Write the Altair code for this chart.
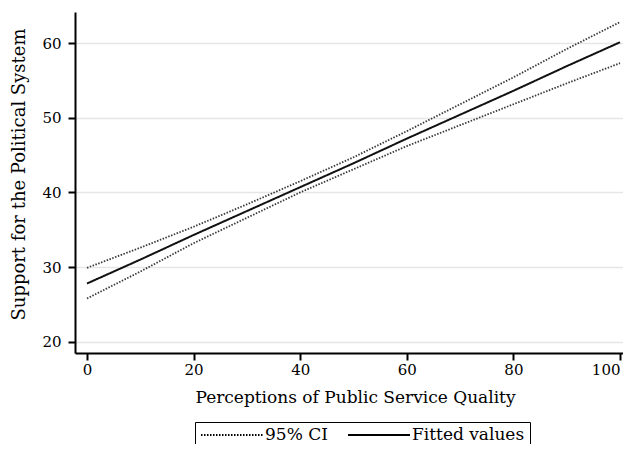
import altair as alt
import pandas as pd

# values
xs = [0, 10, 20, 30, 40, 50, 60, 70, 80, 90, 100]
fitted = [27.8, 31.0, 34.3, 37.5, 40.7, 43.9, 47.2, 50.4, 53.6, 56.9, 60.1]
upper = [29.9, 32.6, 35.4, 38.4, 41.5, 44.7, 48.2, 51.8, 55.4, 59.2, 62.8]
lower = [25.8, 29.4, 33.2, 36.6, 40.0, 43.1, 46.2, 49.0, 51.8, 54.6, 57.3]
x_ticks = [0, 20, 40, 60, 80, 100]
y_ticks = [20, 30, 40, 50, 60]
series = ["95% CI", "Fitted values"]
lines = ["upper", "lower", "fit"]

rows = []
for x, f, u, l in zip(xs, fitted, upper, lower):
    rows.append({"x": x, "y": u, "line": "upper", "series": series[0]})
    rows.append({"x": x, "y": l, "line": "lower", "series": series[0]})
    rows.append({"x": x, "y": f, "line": "fit", "series": series[1]})
df = pd.DataFrame(rows)

FONT = "DejaVu Serif"
W, H = 548, 341

chart = alt.Chart(df).mark_line().encode(
    x=alt.X("x:Q", scale=alt.Scale(domain=[-2.25, 100.56], nice=False, zero=False),
            axis=alt.Axis(values=x_ticks, title="Perceptions of Public Service Quality",
                          grid=False, titleX=280, titleY=36, titleFontSize=17,
                          labelPadding=2, labelFlush=5)),
    y=alt.Y("y:Q", scale=alt.Scale(domain=[18.5, 64.15], nice=False, zero=False),
            axis=alt.Axis(values=y_ticks, title="Support for the Political System",
                          grid=True, titleX=-56, titleY=162, titleBaseline="middle",
                          titleFontSize=18, labelPadding=7)),
    color=alt.Color("line:N",
        scale=alt.Scale(domain=lines, range=["#3a3a3a", "#3a3a3a", "#111111"]),
        legend=None),
    strokeDash=alt.StrokeDash("series:N",
        scale=alt.Scale(domain=series, range=[[1.5, 1.5], [1, 0]]),
        legend=alt.Legend(title=None, orient="none", legendX=120, legendY=410,
                          direction="horizontal", strokeColor="black",
                          padding=5, symbolType="stroke", symbolSize=3844,
                          clipHeight=16,
                          symbolStrokeColor="black", symbolStrokeWidth=1.5,
                          labelFont=FONT, labelFontSize=17, labelColor="black",
                          labelOffset=1, columnPadding=19)),
    strokeWidth=alt.StrokeWidth("series:N",
        scale=alt.Scale(domain=series, range=[1.8, 2.0]), legend=None),
).properties(
    width=W, height=H,
    background="white",
    autosize=alt.AutoSizeParams(type="none"),
    padding={"left": 67, "top": 4, "right": 0, "bottom": 91},
).configure_view(stroke=None).configure_axis(
    domainColor="black", domainWidth=2, tickColor="black", tickWidth=2,
    tickSize=7, labelFont=FONT, labelFontSize=15, labelColor="black",
    titleFont=FONT, titleFontWeight="normal", titleColor="black",
    gridColor="#e6e6e6", gridWidth=1.5,
)

chart.save("out.html", embed_options={"renderer": "svg", "actions": False})
